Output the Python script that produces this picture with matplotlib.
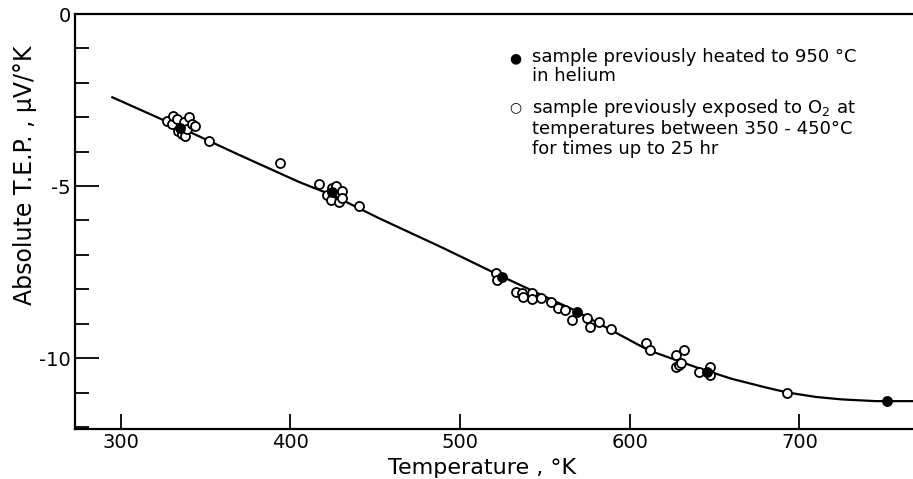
import matplotlib
matplotlib.use('Agg')
import matplotlib.pyplot as plt

# 曲线（手绘拟合线）读数
curve_T = [295, 335, 370, 405, 425, 452, 490, 523, 567, 611, 640, 660, 680, 693, 710, 725, 745, 770]
curve_V = [-2.42, -3.3, -4.1, -4.88, -5.27, -5.93, -6.8, -7.59, -8.6, -9.77, -10.28, -10.6,
           -10.85, -11.0, -11.13, -11.2, -11.25, -11.25]

# 实心点：950°C 氦气中预热
filled_T = [335, 424.7, 524.7, 568.8, 645.3, 751.8]
filled_V = [-3.3, -5.17, -7.65, -8.66, -10.4, -11.25]

# 空心点：O2 中暴露
open_T = [327, 330, 331, 333, 334, 336, 337, 338, 339, 340, 342, 344, 352,
          394,
          417, 421.8, 424, 424.7, 427, 428.8, 430.6, 430.6, 440.6,
          521, 522,
          533, 536.5, 537, 542.4, 542.4, 548, 553.5, 558, 562, 566, 574.7, 576.5, 581.8, 588.8,
          609.4, 611.8, 627, 627, 628.8, 630, 631.8, 640.6, 647.6, 647.6,
          693]
open_V = [-3.1, -3.2, -2.95, -3.05, -3.4, -3.5, -3.15, -3.55, -3.35, -2.98, -3.2, -3.25, -3.7,
          -4.33,
          -4.94, -5.26, -5.41, -5.06, -5.0, -5.46, -5.14, -5.35, -5.58,
          -7.52, -7.72,
          -8.08, -8.11, -8.23, -8.11, -8.28, -8.26, -8.37, -8.55, -8.6, -8.9, -8.84, -9.1, -8.95, -9.16,
          -9.56, -9.77, -9.91, -10.26, -10.2, -10.15, -9.77, -10.4, -10.26, -10.5,
          -11.0]

x_ticks = [300, 400, 500, 600, 700]
y_ticks = [0, -5, -10]

plt.rcParams['font.family'] = ['DejaVu Sans']
plt.rcParams['axes.unicode_minus'] = False

W, H = 913, 479
fig = plt.figure(figsize=(W / 100, H / 100), dpi=100)
ax = fig.add_axes([75 / W, (H - 429) / H, (W - 75) / W, (429 - 14) / H])

ax.plot(curve_T, curve_V, color='black', lw=1.6, zorder=2)
ax.plot(open_T, open_V, 'o', ms=6.5, mfc='white', mec='black', mew=1.3, zorder=3)
ax.plot(filled_T, filled_V, 'o', ms=6.5, mfc='black', mec='black', mew=1.3, zorder=4)

ax.set_xlim(273, 767)
ax.set_ylim(-12.06, 0)
ax.set_xticks(x_ticks)
ax.set_yticks(y_ticks)
ax.set_yticks(range(-12, 1), minor=True)
ax.tick_params(axis='x', direction='in', length=11, width=1.3, labelsize=14, pad=3)
ax.tick_params(axis='y', which='major', direction='in', length=17, width=1.3, labelsize=14, pad=3)
ax.tick_params(axis='y', which='minor', direction='in', length=10, width=1.3)

for s in ['left', 'bottom', 'top']:
    ax.spines[s].set_linewidth(1.6)
ax.spines['right'].set_visible(False)

ax.set_xlabel('Temperature , °K', fontsize=16, va='baseline')
ax.xaxis.set_label_coords((482 - 75) / (W - 75), -(474 - 429) / (429 - 14))
fig.text(25 / W, 1 - 175 / H, 'Absolute T.E.P. , μV/°K', rotation=90,
         fontsize=17, ha='center', va='center')

# 图例（手写式）
fig.text(515 / W, 1 - 58 / H, '●', fontsize=10, ha='center', va='center')
fig.text(532 / W, 1 - 48 / H, 'sample previously heated to 950 °C\nin helium',
         fontsize=13, ha='left', va='top', linespacing=1.1)
fig.text(515 / W, 1 - 107 / H, '○', fontsize=10, ha='center', va='center')
fig.text(532 / W, 1 - 97 / H,
         'sample previously exposed to O$_2$ at\ntemperatures between 350 - 450°C\nfor times up to 25 hr',
         fontsize=13, ha='left', va='top', linespacing=1.1)

plt.savefig('out.png', dpi=100)
